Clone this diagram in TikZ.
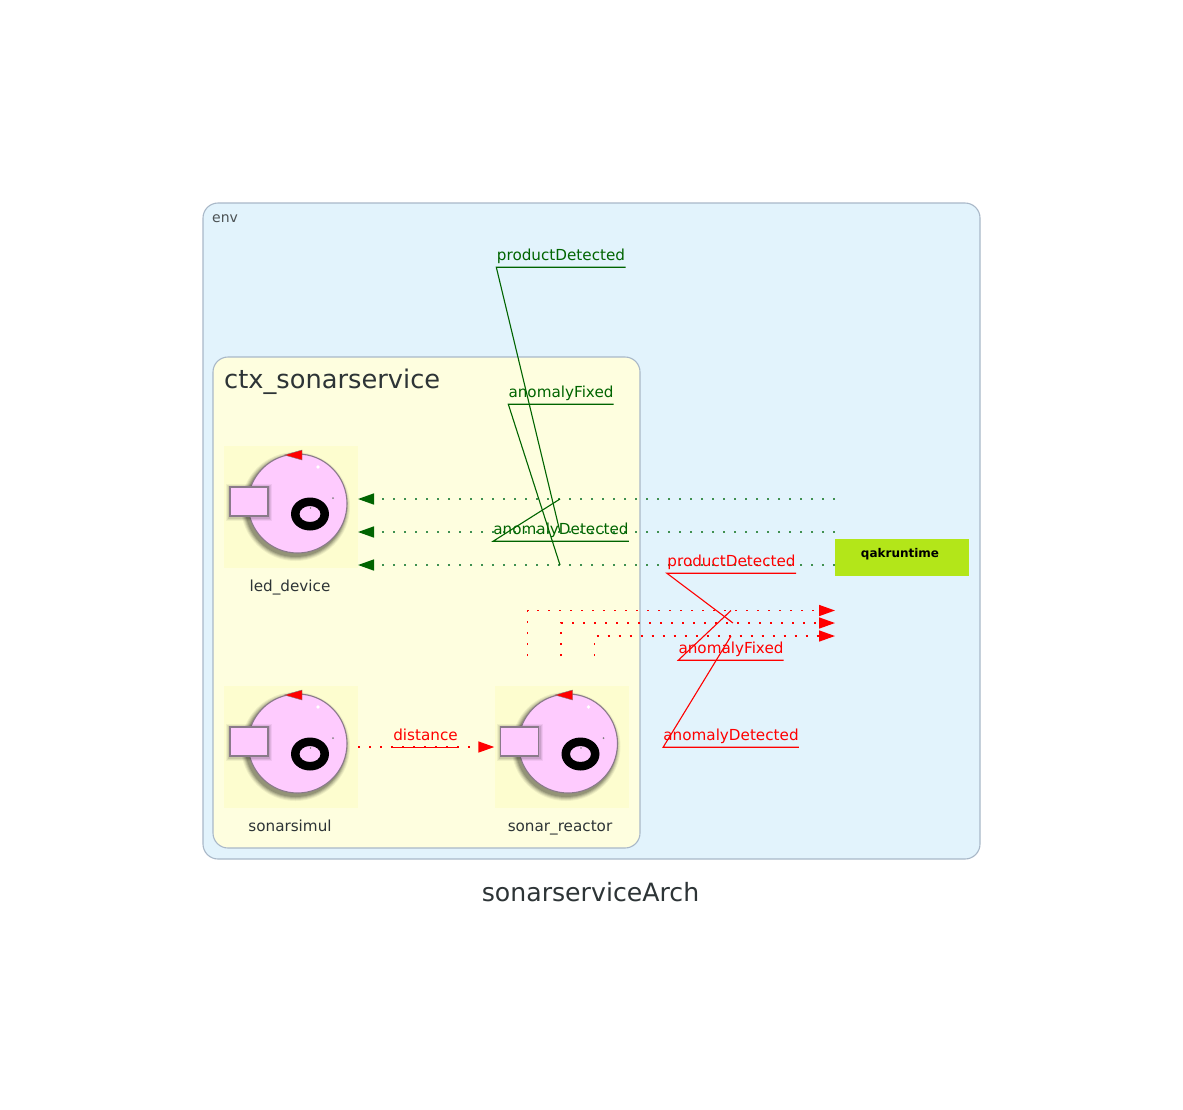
\documentclass[tikz,border=0pt]{standalone}
\usepackage{fontspec}
\setmainfont{DejaVu Sans}
\usetikzlibrary{arrows.meta}
\definecolor{envfill}{HTML}{E2F3FC}
\definecolor{envline}{HTML}{A9B8C8}
\definecolor{ctxfill}{HTML}{FEFEDF}
\definecolor{actorbg}{HTML}{FDFDCF}
\definecolor{pinkfill}{HTML}{FECBFE}
\definecolor{pinkline}{HTML}{8A7A8A}
\definecolor{qakfill}{HTML}{B3E619}
\definecolor{inktext}{HTML}{2D3436}
\definecolor{dgreen}{HTML}{006400}
\definecolor{dotgreen}{HTML}{3F9050}
\tikzset{
  x=1pt,y=-1pt,
  region/.style={draw=envline,line width=1.1pt,rounded corners=15pt},
  actorbox/.style={fill=actorbg,draw=none,minimum width=134pt,minimum height=122pt,inner sep=0pt},
  actorname/.style={font=\fontsize{15.2pt}{17pt}\selectfont,text=inktext,inner sep=0pt},
  msg/.style={dash pattern=on 2pt off 9pt,line width=1.5pt},
  greenarrow/.style={msg,draw=dotgreen,-{Triangle[length=16pt,width=11pt,color=dgreen,fill=dgreen,sep=0pt]}},
  redarrow/.style={msg,draw=red,-{Triangle[length=16pt,width=11pt,fill=red,sep=0pt]}},
  msglabel/.style={inner sep=0pt,text height=17.2pt,text depth=6.8pt,font=\fontsize{15.2pt}{17pt}\selectfont},
  glabel/.style={msglabel,text=dgreen},
  rlabel/.style={msglabel,text=red},
  gdeco/.style={draw=dgreen,line width=1.1pt},
  rdeco/.style={draw=red,line width=1.1pt},
  pics/actorglyph/.style={code={
    \foreach \o/\d in {.06/5,.08/4,.10/3,.12/2,.14/1}{
      \fill[black,opacity=\o] (-2,3) circle[radius=49.5+\d];
    }
    \fill[pinkfill,draw=pinkline,line width=1.1pt] (0,0) circle[radius=49.5];
    \foreach \o/\d in {.05/3,.07/2,.09/1}{
      \fill[black,opacity=\o] (-68.5-\d,-16.5-\d) rectangle (-28.5+\d,14+\d);
    }
    \fill[pinkfill,draw=pinkline,line width=1.5pt] (-67.5,-16.5) rectangle (-29.5,12.5);
    \fill[black,even odd rule] (12.5,10.5) ellipse[x radius=19,y radius=16.5] (12.5,10.5) ellipse[x radius=10.5,y radius=8];
    \fill[gray] (35.5,-5.5) circle[radius=1pt];
    \fill[white] (20.5,-36.5) circle[radius=1.8pt];
    \fill[gray] (13,4.5) circle[radius=.8pt];
    \fill[red,draw=black!50,line width=.4pt] (4.5,-53.5) -- (4.5,-43.5) -- (-13,-48.5) -- cycle;
  }}
}
\begin{document}
\begin{tikzpicture}
\useasboundingbox (0,0) rectangle (1183,1109);
\fill[white] (0,0) rectangle (1183,1109);
% regions
\node[inner sep=0pt,minimum width=777pt,minimum height=656pt,region,fill=envfill] (env) at (591.5,531) {};
\node[inner sep=0pt,anchor=west,font=\fontsize{14pt}{16pt}\selectfont,text=inktext!85] (envlabel) at (212,218.5) {env};
\node[inner sep=0pt,minimum width=427pt,minimum height=491pt,region,fill=ctxfill] (ctx) at (426.5,602.5) {};
\node[inner sep=0pt,anchor=west,font=\fontsize{25.7pt}{28pt}\selectfont,text=inktext] (ctxlabel) at (224,382) {ctx\_sonarservice};
\node[inner sep=0pt,font=\fontsize{25.2pt}{28pt}\selectfont,text=inktext] (title) at (590.5,892) {sonarserviceArch};
% actors
\node[actorbox] (led) at (291,507) {};
\node[actorbox] (simul) at (291,747) {};
\node[actorbox] (reactor) at (561.5,747) {};
\pic at (297.5,503.5) {actorglyph};
\pic at (297.5,743.5) {actorglyph};
\pic at (568,743.5) {actorglyph};
\node[actorname] (ledname) at (290,587.5) {led\_device};
\node[actorname] (simulname) at (290,826) {sonarsimul};
\node[actorname] (reactorname) at (560,827.5) {sonar\_reactor};
% runtime
\node[fill=qakfill,minimum width=134pt,minimum height=37pt,inner sep=0pt] (qak) at (902,557.5) {};
\node[inner sep=0pt,font=\bfseries\fontsize{12pt}{14pt}\selectfont,text=black] (qakname) at (900,554.5) {qakruntime};
% anchors of the message lines
\coordinate (qo1) at (835,499); \coordinate (li1) at (358,499);
\coordinate (qo2) at (835,532); \coordinate (li2) at (358,532);
\coordinate (qo3) at (835,565); \coordinate (li3) at (358,565);
\coordinate (gm1) at (560,499); \coordinate (gm2) at (560,532); \coordinate (gm3) at (560,565);
\coordinate (ro1) at (527.5,656); \coordinate (rc1) at (527.5,610.5); \coordinate (qi1) at (835,610.5);
\coordinate (ro2) at (561,656);   \coordinate (rc2) at (561,623);     \coordinate (qi2) at (835,623);
\coordinate (ro3) at (594.5,656); \coordinate (rc3) at (594.5,636);   \coordinate (qi3) at (835,636);
\coordinate (rm1) at (731,610.5); \coordinate (rm2) at (733,623); \coordinate (rm3) at (731,636);
% green messages
\draw[greenarrow] (qo1) -- (li1);
\draw[greenarrow] (qo2) -- (li2);
\draw[greenarrow] (qo3) -- (li3);
% red messages
\draw[redarrow] (ro1) -- (rc1) -- (qi1);
\draw[redarrow] (ro2) -- (rc2) -- (qi2);
\draw[redarrow] (ro3) -- (rc3) -- (qi3);
\draw[redarrow] (simul.east) -- (reactor.west);
% green labels
\node[glabel,minimum width=129pt] (gprod) at (561,255) {productDetected};
\node[glabel,minimum width=105pt] (gfix) at (561,392) {anomalyFixed};
\node[glabel,minimum width=134pt] (gano) at (561,529) {anomalyDetected};
\draw[gdeco] (gprod.south east) -- (gprod.south west) -- (gm2);
\draw[gdeco] (gfix.south east) -- (gfix.south west) -- (gm3);
\draw[gdeco] (gano.south east) -- (gano.south west) -- (gm1);
% red labels
\node[rlabel,minimum width=129pt] (rprod) at (731.5,561) {productDetected};
\node[rlabel,minimum width=105pt] (rfix) at (731,648) {anomalyFixed};
\node[rlabel,minimum width=134pt] (rano) at (731,735) {anomalyDetected};
\node[rlabel,minimum width=65pt] (rdist) at (425.5,735) {distance};
\draw[rdeco] (rprod.south east) -- (rprod.south west) -- (rm2);
\draw[rdeco] (rfix.south east) -- (rfix.south west) -- (rm1);
\draw[rdeco] (rano.south east) -- (rano.south west) -- (rm3);
\draw[rdeco] (rdist.south east) -- (rdist.south west);
\end{tikzpicture}
\end{document}
